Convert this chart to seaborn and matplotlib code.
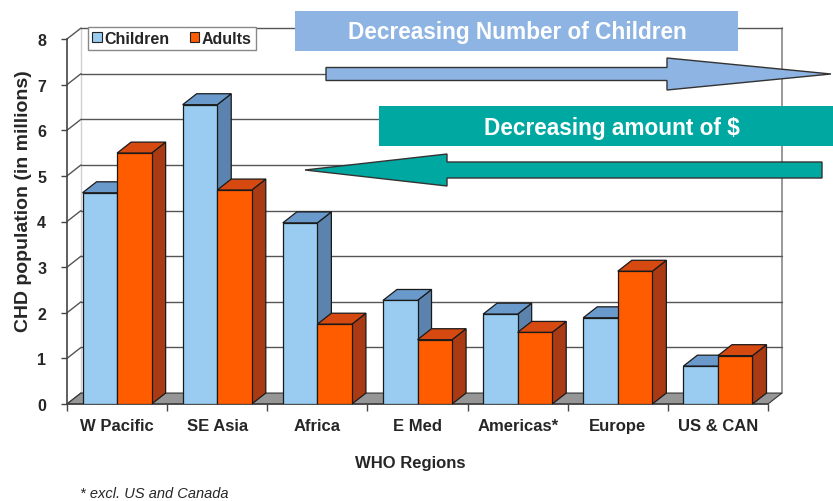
import matplotlib
matplotlib.use("Agg")
import matplotlib.pyplot as plt
from matplotlib.patches import Polygon, Rectangle, FancyArrow, Patch
import seaborn as sns
import pandas as pd

# ---- data ----
regions = ["W Pacific", "SE Asia", "Africa", "E Med", "Americas*", "Europe", "US & CAN"]
children = [4.63, 6.56, 3.97, 2.27, 1.97, 1.89, 0.83]
adults = [5.50, 4.69, 1.75, 1.41, 1.57, 2.91, 1.06]
groups = ["Children", "Adults"]
yticks = [0, 1, 2, 3, 4, 5, 6, 7, 8]

df = pd.DataFrame({
    "region": regions * 2,
    "value": children + adults,
    "group": [groups[0]] * len(regions) + [groups[1]] * len(regions),
})

front = {"Children": "#99CCF0", "Adults": "#FF5C00"}
top_c = {"Children": "#6A9ACB", "Adults": "#D64A12"}
side_c = {"Children": "#5B83AE", "Adults": "#A93A14"}

sns.set_theme(style="white")
plt.rcParams["font.family"] = ["Liberation Sans", "DejaVu Sans"]

fig = plt.figure(figsize=(8.33, 5.02), dpi=100)
ax = fig.add_axes([67 / 833, 97 / 502, 701 / 833, 365 / 502])
ax.set_facecolor("none")

sns.barplot(data=df, x="region", y="value", hue="group", palette=front,
            width=0.69, saturation=1, edgecolor="#1a1a1a", linewidth=0.9,
            legend=False, ax=ax)
bars = sorted(list(ax.patches), key=lambda p: p.get_x())

ax.set_xlim(-0.5, len(regions) - 0.5)
ax.set_ylim(0, 8)

DX, DY = 0.14, 0.24  # depth offset in data units
x0, x1 = -0.5, len(regions) - 0.5

# floor
floor = Polygon([(x0, 0), (x1, 0), (x1 + DX, DY), (x0 + DX, DY)], closed=True,
                facecolor="#969696", edgecolor="#333333", lw=0.8, zorder=1,
                clip_on=False)
ax.add_patch(floor)

# back-wall gridlines and diagonals
for v in yticks:
    if v > 0:
        ax.plot([x0 + DX, x1 + DX], [v + DY, v + DY], color="#555555", lw=1.0,
                zorder=0.8, clip_on=False)
    ax.plot([x0, x0 + DX], [v, v + DY], color="#555555", lw=1.0, zorder=0.8,
            clip_on=False)
ax.plot([x0 + DX, x0 + DX], [DY, 8 + DY], color="#d0d0d0", lw=1.0, zorder=0.7,
        clip_on=False)
ax.plot([x1 + DX, x1 + DX], [DY, 8 + DY], color="#888888", lw=1.2, zorder=0.7,
        clip_on=False)

# 3D tops and sides for bars
for i, b in enumerate(bars):
    fc = b.get_facecolor()
    key = "Children" if fc[0] < 0.8 else "Adults"
    bx, bw, bh = b.get_x(), b.get_width(), b.get_height()
    base = 10 + 3 * i
    side = Polygon([(bx + bw, 0), (bx + bw + DX, DY), (bx + bw + DX, bh + DY), (bx + bw, bh)],
                   closed=True, facecolor=side_c[key], edgecolor="#1a1a1a", lw=0.9,
                   zorder=base, clip_on=False)
    top = Polygon([(bx, bh), (bx + DX, bh + DY), (bx + bw + DX, bh + DY), (bx + bw, bh)],
                  closed=True, facecolor=top_c[key], edgecolor="#1a1a1a", lw=0.9,
                  zorder=base + 1, clip_on=False)
    ax.add_patch(side)
    ax.add_patch(top)
    b.set_zorder(base + 2)

# axes styling
for s in ["top", "right"]:
    ax.spines[s].set_visible(False)
for s in ["left", "bottom"]:
    ax.spines[s].set_color("#444444")
    ax.spines[s].set_linewidth(1.2)
    ax.spines[s].set_zorder(2)

ax.set_yticks(yticks)
ax.set_yticklabels([str(t) for t in yticks], fontsize=11.5, fontweight="bold")
ax.tick_params(axis="y", length=4, width=1, color="#444444", pad=11, left=True)
ax.set_xticks(range(len(regions)))
ax.set_xticklabels(regions, fontsize=12, fontweight="bold")
ax.set_xticks([i - 0.5 for i in range(len(regions) + 1)], minor=True)
ax.tick_params(axis="x", which="major", length=0, pad=10)
ax.tick_params(axis="x", which="minor", length=5, width=1, color="#444444", bottom=True)
ax.set_xlabel("")
ax.set_ylabel("")

fig.text(24 / 833, 1 - 201 / 502, "CHD population (in millions)", rotation=90,
         ha="center", va="center", fontsize=14, fontweight="bold")
fig.text(410 / 833, 1 - 464 / 502, "WHO Regions", ha="center", va="center",
         fontsize=12, fontweight="bold")
fig.text(80 / 833, 1 - 494 / 502, "* excl. US and Canada", ha="left", va="center",
         fontsize=10.5, style="italic")

# legend
handles = [Patch(facecolor=front[g], edgecolor="#222222", lw=0.8) for g in groups]
leg = ax.legend(handles, groups, loc="upper left", ncol=2,
                bbox_to_anchor=(88 / 833, 1 - 28 / 502), bbox_transform=fig.transFigure,
                frameon=True, fancybox=False, framealpha=1, edgecolor="#888888",
                borderpad=0.25, borderaxespad=0, handlelength=0.6, handleheight=0.6,
                handletextpad=0.15, columnspacing=1.3,
                prop={"weight": "bold", "size": 11.5})
leg.get_frame().set_linewidth(1.0)
leg.set_zorder(5)

# overlay annotations (banners and arrows)
ov = fig.add_axes([0, 0, 1, 1], zorder=10)
ov.set_xlim(0, 833)
ov.set_ylim(502, 0)
ov.axis("off")
ov.patch.set_alpha(0)

ov.add_patch(Rectangle((295, 12), 443, 40, facecolor="#8DB4E2", edgecolor="none"))
ov.text(517, 33, "Decreasing Number of Children", color="white", fontsize=16.3,
        fontweight="bold", ha="center", va="center")
ov.add_patch(FancyArrow(326, 75, 505, 0, width=13, head_width=32, head_length=164,
                        length_includes_head=True, facecolor="#8DB4E2",
                        edgecolor="#333333", lw=1.0))

ov.add_patch(Rectangle((379, 107), 460, 40, facecolor="#00A8A2", edgecolor="none"))
ov.text(612, 128, "Decreasing amount of $", color="white", fontsize=16.3,
        fontweight="bold", ha="center", va="center")
ov.add_patch(FancyArrow(822, 171, -517, 0, width=16, head_width=32, head_length=142,
                        length_includes_head=True, facecolor="#00A8A2",
                        edgecolor="#333333", lw=1.0))

fig.savefig("out.png", dpi=100)
